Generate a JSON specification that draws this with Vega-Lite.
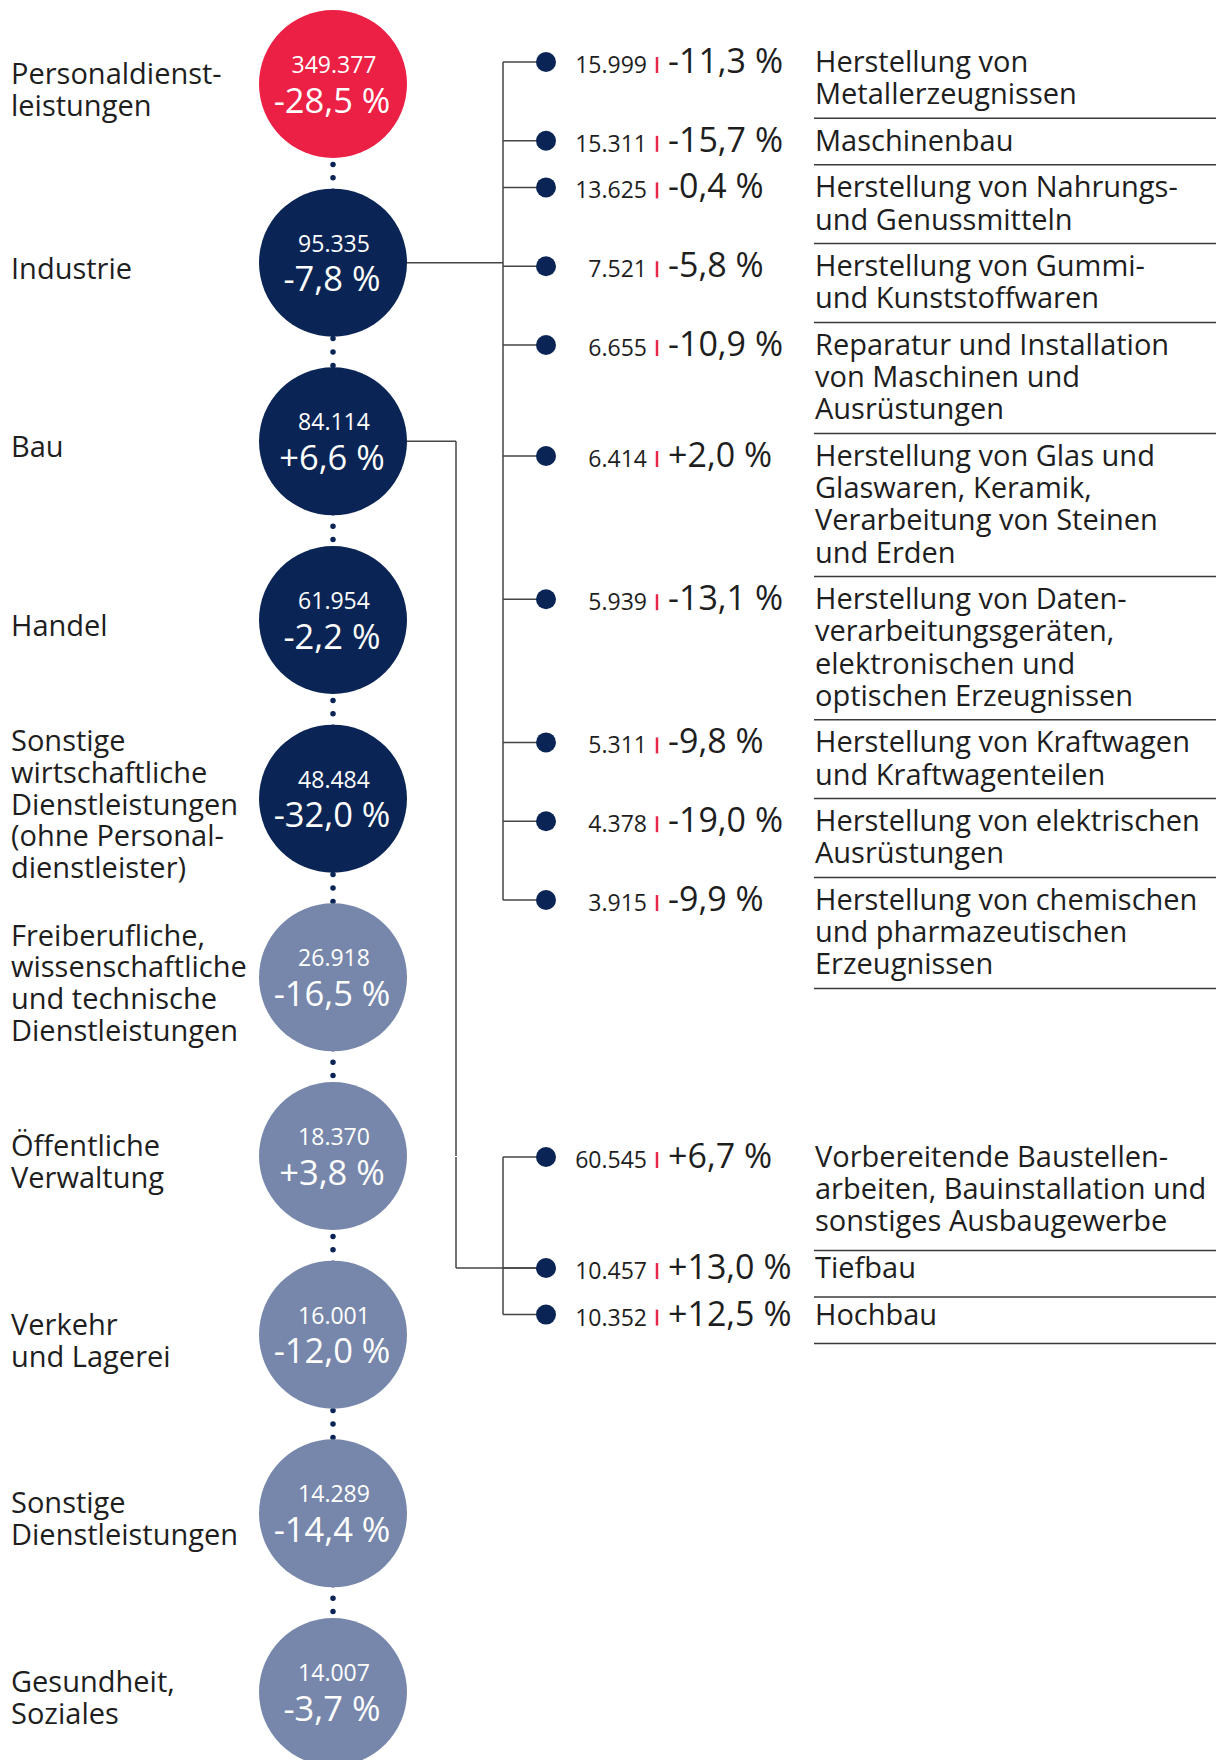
{
  "$schema": "https://vega.github.io/schema/vega-lite/v6.json",
  "width": 1216,
  "height": 1760,
  "padding": 0,
  "autosize": {"type": "none"},
  "background": "#ffffff",
  "config": {
    "view": {"stroke": null},
    "font": "Open Sans",
    "locale": {"number": {"decimal": ",", "thousands": ".", "grouping": [3], "currency": ["", " €"], "minus": "-", "percent": " %"}}
  },
  "datasets": {
    "branchen": [
      {"bereich": "Personaldienstleistungen", "beschriftung": ["Personaldienst-", "leistungen"], "beschaeftigte": 349377, "veraenderung": -0.285},
      {"bereich": "Industrie", "beschriftung": ["Industrie"], "beschaeftigte": 95335, "veraenderung": -0.078},
      {"bereich": "Bau", "beschriftung": ["Bau"], "beschaeftigte": 84114, "veraenderung": 0.066},
      {"bereich": "Handel", "beschriftung": ["Handel"], "beschaeftigte": 61954, "veraenderung": -0.022},
      {"bereich": "Sonstige wirtschaftliche Dienstleistungen (ohne Personaldienstleister)", "beschriftung": ["Sonstige", "wirtschaftliche", "Dienstleistungen", "(ohne Personal-", "dienstleister)"], "beschaeftigte": 48484, "veraenderung": -0.32},
      {"bereich": "Freiberufliche, wissenschaftliche und technische Dienstleistungen", "beschriftung": ["Freiberufliche,", "wissenschaftliche", "und technische", "Dienstleistungen"], "beschaeftigte": 26918, "veraenderung": -0.165},
      {"bereich": "Öffentliche Verwaltung", "beschriftung": ["Öffentliche", "Verwaltung"], "beschaeftigte": 18370, "veraenderung": 0.038},
      {"bereich": "Verkehr und Lagerei", "beschriftung": ["Verkehr", "und Lagerei"], "beschaeftigte": 16001, "veraenderung": -0.12},
      {"bereich": "Sonstige Dienstleistungen", "beschriftung": ["Sonstige", "Dienstleistungen"], "beschaeftigte": 14289, "veraenderung": -0.144},
      {"bereich": "Gesundheit, Soziales", "beschriftung": ["Gesundheit,", "Soziales"], "beschaeftigte": 14007, "veraenderung": -0.037}
    ],
    "teilbranchen": [
      {"oberbereich": "Industrie", "bereich": "Herstellung von Metallerzeugnissen", "zeilen": ["Herstellung von", "Metallerzeugnissen"], "beschaeftigte": 15999, "veraenderung": -0.113},
      {"oberbereich": "Industrie", "bereich": "Maschinenbau", "zeilen": ["Maschinenbau"], "beschaeftigte": 15311, "veraenderung": -0.157},
      {"oberbereich": "Industrie", "bereich": "Herstellung von Nahrungs- und Genussmitteln", "zeilen": ["Herstellung von Nahrungs-", "und Genussmitteln"], "beschaeftigte": 13625, "veraenderung": -0.004},
      {"oberbereich": "Industrie", "bereich": "Herstellung von Gummi- und Kunststoffwaren", "zeilen": ["Herstellung von Gummi-", "und Kunststoffwaren"], "beschaeftigte": 7521, "veraenderung": -0.058},
      {"oberbereich": "Industrie", "bereich": "Reparatur und Installation von Maschinen und Ausrüstungen", "zeilen": ["Reparatur und Installation", "von Maschinen und", "Ausrüstungen"], "beschaeftigte": 6655, "veraenderung": -0.109},
      {"oberbereich": "Industrie", "bereich": "Herstellung von Glas und Glaswaren, Keramik, Verarbeitung von Steinen und Erden", "zeilen": ["Herstellung von Glas und", "Glaswaren, Keramik,", "Verarbeitung von Steinen", "und Erden"], "beschaeftigte": 6414, "veraenderung": 0.02},
      {"oberbereich": "Industrie", "bereich": "Herstellung von Datenverarbeitungsgeräten, elektronischen und optischen Erzeugnissen", "zeilen": ["Herstellung von Daten-", "verarbeitungsgeräten,", "elektronischen und", "optischen Erzeugnissen"], "beschaeftigte": 5939, "veraenderung": -0.131},
      {"oberbereich": "Industrie", "bereich": "Herstellung von Kraftwagen und Kraftwagenteilen", "zeilen": ["Herstellung von Kraftwagen", "und Kraftwagenteilen"], "beschaeftigte": 5311, "veraenderung": -0.098},
      {"oberbereich": "Industrie", "bereich": "Herstellung von elektrischen Ausrüstungen", "zeilen": ["Herstellung von elektrischen", "Ausrüstungen"], "beschaeftigte": 4378, "veraenderung": -0.19},
      {"oberbereich": "Industrie", "bereich": "Herstellung von chemischen und pharmazeutischen Erzeugnissen", "zeilen": ["Herstellung von chemischen", "und pharmazeutischen", "Erzeugnissen"], "beschaeftigte": 3915, "veraenderung": -0.099},
      {"oberbereich": "Bau", "bereich": "Vorbereitende Baustellenarbeiten, Bauinstallation und sonstiges Ausbaugewerbe", "zeilen": ["Vorbereitende Baustellen-", "arbeiten, Bauinstallation und", "sonstiges Ausbaugewerbe"], "beschaeftigte": 60545, "veraenderung": 0.067},
      {"oberbereich": "Bau", "bereich": "Tiefbau", "zeilen": ["Tiefbau"], "beschaeftigte": 10457, "veraenderung": 0.13},
      {"oberbereich": "Bau", "bereich": "Hochbau", "zeilen": ["Hochbau"], "beschaeftigte": 10352, "veraenderung": 0.125}
    ]
  },
  "layer": [
    {
      "data": {"name": "branchen"},
      "encoding": {
        "y": {"field": "bereich", "type": "nominal", "axis": null,
          "scale": {"type": "point", "padding": 0, "range": [84, 1692],
            "domain": ["Personaldienstleistungen", "Industrie", "Bau", "Handel", "Sonstige wirtschaftliche Dienstleistungen (ohne Personaldienstleister)", "Freiberufliche, wissenschaftliche und technische Dienstleistungen", "Öffentliche Verwaltung", "Verkehr und Lagerei", "Sonstige Dienstleistungen", "Gesundheit, Soziales"]}}
      },
      "layer": [
        {"mark": {"type": "line", "color": "#0A2555", "strokeWidth": 5.5, "strokeCap": "round", "strokeDash": [0.01, 13.39]},
         "encoding": {"x": {"value": 333}}},
        {"transform": [{"filter": {"field": "bereich", "equal": "Industrie"}}],
         "mark": {"type": "rule", "color": "#454545", "strokeWidth": 1.5},
         "encoding": {"x": {"value": 333}, "x2": {"value": 503}}},
        {"transform": [{"filter": {"field": "bereich", "equal": "Bau"}}],
         "mark": {"type": "rule", "color": "#454545", "strokeWidth": 1.5},
         "encoding": {"x": {"value": 333}, "x2": {"value": 456}}},
        {"transform": [{"filter": {"field": "bereich", "equal": "Bau"}}],
         "mark": {"type": "rule", "color": "#454545", "strokeWidth": 1.5},
         "encoding": {"x": {"value": 456}, "y2": {"datum": "Öffentliche Verwaltung"}}},
        {"mark": {"type": "point", "filled": true, "size": 21904, "opacity": 1, "strokeWidth": 0},
         "encoding": {"x": {"value": 333},
           "color": {"condition": {"test": "datum.bereich === 'Personaldienstleistungen'", "value": "#EC1F45"},
             "field": "beschaeftigte", "type": "quantitative", "legend": null,
             "scale": {"type": "threshold", "domain": [40000], "range": ["#7787AB", "#0A2555"]}}}},
        {"mark": {"type": "text", "color": "#ffffff", "fontSize": 23, "align": "center", "baseline": "alphabetic", "dy": -11},
         "encoding": {"x": {"value": 334}, "text": {"field": "beschaeftigte", "type": "quantitative", "format": ",d"}}},
        {"mark": {"type": "text", "color": "#ffffff", "fontSize": 34.5, "align": "center", "baseline": "alphabetic", "dy": 28.5},
         "encoding": {"x": {"value": 332}, "text": {"field": "veraenderung", "type": "quantitative", "format": "+.1%"}}},
        {"transform": [
           {"flatten": ["beschriftung"], "as": ["zeile"]},
           {"joinaggregate": [{"op": "count", "as": "zeilenzahl"}], "groupby": ["bereich"]},
           {"window": [{"op": "row_number", "as": "nr"}], "groupby": ["bereich"]},
           {"filter": "datum.nr === 1"}
         ],
         "mark": {"type": "text", "color": "#1E1E1E", "fontSize": 29, "lineHeight": 31.7, "align": "left", "baseline": "middle", "dy": 7},
         "encoding": {"x": {"value": 11}, "text": {"field": "beschriftung"},
           "yOffset": {"field": "zeilenzahl", "type": "quantitative", "scale": {"domain": [1, 5], "range": [0, -63.4]}}}}
      ]
    },
    {
      "data": {"name": "teilbranchen"},
      "transform": [
        {"filter": {"field": "oberbereich", "equal": "Industrie"}},
        {"flatten": ["zeilen"], "as": ["zeile"]},
        {"window": [{"op": "row_number", "as": "zeilennr"}], "sort": [{"field": "beschaeftigte", "order": "descending"}]},
        {"joinaggregate": [{"op": "min", "field": "zeilennr", "as": "start"}, {"op": "max", "field": "zeilennr", "as": "ende"}], "groupby": ["bereich"]},
        {"filter": "datum.zeilennr === datum.start"}
      ],
      "encoding": {
        "y": {"field": "bereich", "type": "nominal", "axis": null,
          "scale": {"type": "point", "padding": 0, "range": [62, 191.6],
            "domain": ["Herstellung von Metallerzeugnissen", "Maschinenbau", "Herstellung von Nahrungs- und Genussmitteln", "Herstellung von Gummi- und Kunststoffwaren", "Reparatur und Installation von Maschinen und Ausrüstungen", "Herstellung von Glas und Glaswaren, Keramik, Verarbeitung von Steinen und Erden", "Herstellung von Datenverarbeitungsgeräten, elektronischen und optischen Erzeugnissen", "Herstellung von Kraftwagen und Kraftwagenteilen", "Herstellung von elektrischen Ausrüstungen", "Herstellung von chemischen und pharmazeutischen Erzeugnissen"]}}
      },
      "layer": [
        {"mark": {"type": "line", "color": "#454545", "strokeWidth": 1.5},
         "encoding": {"x": {"value": 503}, "yOffset": {"field": "start", "type": "quantitative", "scale": {"domain": [1, 26], "range": [0, 805]}}}},
        {"mark": {"type": "rule", "color": "#454545", "strokeWidth": 1.5},
         "encoding": {"x": {"value": 503}, "x2": {"value": 546}, "yOffset": {"field": "start", "type": "quantitative", "scale": {"domain": [1, 26], "range": [0, 805]}}}},
        {"mark": {"type": "rule", "color": "#3A3A3A", "strokeWidth": 1.5},
         "encoding": {"x": {"value": 814}, "x2": {"value": 1216}, "yOffset": {"field": "ende", "type": "quantitative", "scale": {"domain": [1, 26], "range": [24, 829]}}}},
        {"mark": {"type": "point", "filled": true, "size": 400, "opacity": 1, "color": "#0A2555", "strokeWidth": 0},
         "encoding": {"x": {"value": 546}, "yOffset": {"field": "start", "type": "quantitative", "scale": {"domain": [1, 26], "range": [0, 805]}}}},
        {"mark": {"type": "text", "color": "#1E1E1E", "fontSize": 23, "align": "right", "baseline": "alphabetic", "dy": 11},
         "encoding": {"x": {"value": 647}, "text": {"field": "beschaeftigte", "type": "quantitative", "format": ",d"}, "yOffset": {"field": "start", "type": "quantitative", "scale": {"domain": [1, 26], "range": [0, 805]}}}},
        {"mark": {"type": "point", "shape": "M0,-0.45L0,1", "filled": false, "size": 484, "opacity": 1, "color": "#E8264A", "strokeWidth": 2.5},
         "encoding": {"x": {"value": 657}, "yOffset": {"field": "start", "type": "quantitative", "scale": {"domain": [1, 26], "range": [0, 805]}}}},
        {"mark": {"type": "text", "color": "#1E1E1E", "fontSize": 34, "align": "left", "baseline": "alphabetic", "dy": 11},
         "encoding": {"x": {"value": 668}, "text": {"field": "veraenderung", "type": "quantitative", "format": "+.1%"}, "yOffset": {"field": "start", "type": "quantitative", "scale": {"domain": [1, 26], "range": [0, 805]}}}},
        {"mark": {"type": "text", "color": "#1E1E1E", "fontSize": 29, "lineHeight": 32.2, "align": "left", "baseline": "alphabetic", "dy": 10},
         "encoding": {"x": {"value": 815}, "text": {"field": "zeilen"}, "yOffset": {"field": "start", "type": "quantitative", "scale": {"domain": [1, 26], "range": [0, 805]}}}}
      ],
      "resolve": {"scale": {"yOffset": "independent"}}
    },
    {
      "data": {"name": "teilbranchen"},
      "transform": [
        {"filter": {"field": "oberbereich", "equal": "Bau"}},
        {"flatten": ["zeilen"], "as": ["zeile"]},
        {"window": [{"op": "row_number", "as": "zeilennr"}], "sort": [{"field": "beschaeftigte", "order": "descending"}]},
        {"joinaggregate": [{"op": "min", "field": "zeilennr", "as": "start"}, {"op": "max", "field": "zeilennr", "as": "ende"}], "groupby": ["bereich"]},
        {"filter": "datum.zeilennr === datum.start"}
      ],
      "encoding": {
        "y": {"field": "bereich", "type": "nominal", "axis": null,
          "scale": {"type": "point", "padding": 0, "range": [1157, 1185.8],
            "domain": ["Vorbereitende Baustellenarbeiten, Bauinstallation und sonstiges Ausbaugewerbe", "Tiefbau", "Hochbau"]}}
      },
      "layer": [
        {"transform": [{"filter": {"field": "bereich", "oneOf": ["Vorbereitende Baustellenarbeiten, Bauinstallation und sonstiges Ausbaugewerbe", "Tiefbau"]}}],
         "mark": {"type": "line", "color": "#454545", "strokeWidth": 1.5},
         "encoding": {"x": {"value": 456}, "yOffset": {"field": "start", "type": "quantitative", "scale": {"domain": [1, 26], "range": [0, 805]}}}},
        {"transform": [{"filter": {"field": "bereich", "equal": "Tiefbau"}}],
         "mark": {"type": "rule", "color": "#454545", "strokeWidth": 1.5},
         "encoding": {"x": {"value": 456}, "x2": {"value": 546}, "yOffset": {"field": "start", "type": "quantitative", "scale": {"domain": [1, 26], "range": [0, 805]}}}},
        {"mark": {"type": "line", "color": "#454545", "strokeWidth": 1.5},
         "encoding": {"x": {"value": 503}, "yOffset": {"field": "start", "type": "quantitative", "scale": {"domain": [1, 26], "range": [0, 805]}}}},
        {"mark": {"type": "rule", "color": "#454545", "strokeWidth": 1.5},
         "encoding": {"x": {"value": 503}, "x2": {"value": 546}, "yOffset": {"field": "start", "type": "quantitative", "scale": {"domain": [1, 26], "range": [0, 805]}}}},
        {"mark": {"type": "rule", "color": "#3A3A3A", "strokeWidth": 1.5},
         "encoding": {"x": {"value": 814}, "x2": {"value": 1216}, "yOffset": {"field": "ende", "type": "quantitative", "scale": {"domain": [1, 26], "range": [29, 834]}}}},
        {"mark": {"type": "point", "filled": true, "size": 400, "opacity": 1, "color": "#0A2555", "strokeWidth": 0},
         "encoding": {"x": {"value": 546}, "yOffset": {"field": "start", "type": "quantitative", "scale": {"domain": [1, 26], "range": [0, 805]}}}},
        {"mark": {"type": "text", "color": "#1E1E1E", "fontSize": 23, "align": "right", "baseline": "alphabetic", "dy": 11},
         "encoding": {"x": {"value": 647}, "text": {"field": "beschaeftigte", "type": "quantitative", "format": ",d"}, "yOffset": {"field": "start", "type": "quantitative", "scale": {"domain": [1, 26], "range": [0, 805]}}}},
        {"mark": {"type": "point", "shape": "M0,-0.45L0,1", "filled": false, "size": 484, "opacity": 1, "color": "#E8264A", "strokeWidth": 2.5},
         "encoding": {"x": {"value": 657}, "yOffset": {"field": "start", "type": "quantitative", "scale": {"domain": [1, 26], "range": [0, 805]}}}},
        {"mark": {"type": "text", "color": "#1E1E1E", "fontSize": 34, "align": "left", "baseline": "alphabetic", "dy": 11},
         "encoding": {"x": {"value": 668}, "text": {"field": "veraenderung", "type": "quantitative", "format": "+.1%"}, "yOffset": {"field": "start", "type": "quantitative", "scale": {"domain": [1, 26], "range": [0, 805]}}}},
        {"mark": {"type": "text", "color": "#1E1E1E", "fontSize": 29, "lineHeight": 32.2, "align": "left", "baseline": "alphabetic", "dy": 10},
         "encoding": {"x": {"value": 815}, "text": {"field": "zeilen"}, "yOffset": {"field": "start", "type": "quantitative", "scale": {"domain": [1, 26], "range": [0, 805]}}}}
      ],
      "resolve": {"scale": {"yOffset": "independent"}}
    }
  ],
  "resolve": {"scale": {"y": "independent", "yOffset": "independent"}}
}
